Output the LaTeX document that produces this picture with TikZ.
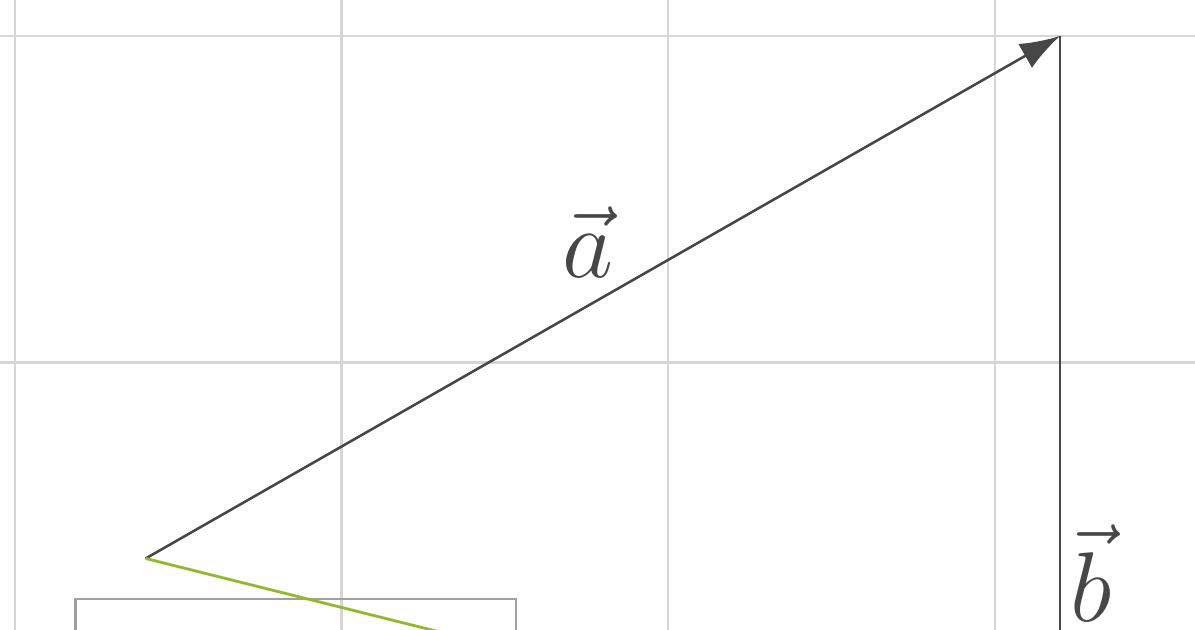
\documentclass[tikz,border=0pt]{standalone}
\usepackage{amsmath, amssymb}
\usepackage{tikz}
\usetikzlibrary{positioning, arrows.meta}

\definecolor{vecgray}{HTML}{474747}
\definecolor{gridgray}{HTML}{D6D6D6}
\definecolor{boxgray}{HTML}{A0A0A0}
\definecolor{sumgreen}{HTML}{94BA2C}

\begin{document}
\begin{tikzpicture}[
    gridline/.style={gridgray, line width=0.4pt},
    vector/.style={vecgray, line width=0.45pt, -{Latex[length=7pt, width=4.8pt]}},
    boxline/.style={boxgray, line width=0.4pt},
    greenline/.style={sumgreen, line width=0.5pt},
    veclabel/.style={vecgray, font=\fontsize{16}{19}\selectfont, inner sep=0pt}
  ]
    \useasboundingbox (-0.092,0.367) rectangle (7.226,4.22);

    % Draw grid
    \foreach \x in {0,2,4,6} {
      \draw[gridline] (\x,-0.5) -- (\x,4.5);
    }
    \foreach \y in {2,4} {
      \draw[gridline] (-0.5,\y) -- (7.5,\y);
    }

    % Points
    \coordinate (O) at (0.8,0.8);
    \coordinate (A) at (6.4,4);
    \coordinate (B) at (6.4,-1.2);
    \coordinate (C) at (3.2,0.2);

    % Draw box
    \draw[boxline] (0.37,-1) rectangle (3.07,0.55);

    % Draw vectors
    \draw[vector] (O) -- (A);
    \draw[vector] (A) -- (B);
    \draw[greenline] (O) -- (C);

    % Labels
    \node[veclabel] (la) at (3.51,2.74) {$\vec{a}$};
    \node[veclabel] (lb) at (6.59,0.71) {$\vec{b}$};
  \end{tikzpicture}
\end{document}
